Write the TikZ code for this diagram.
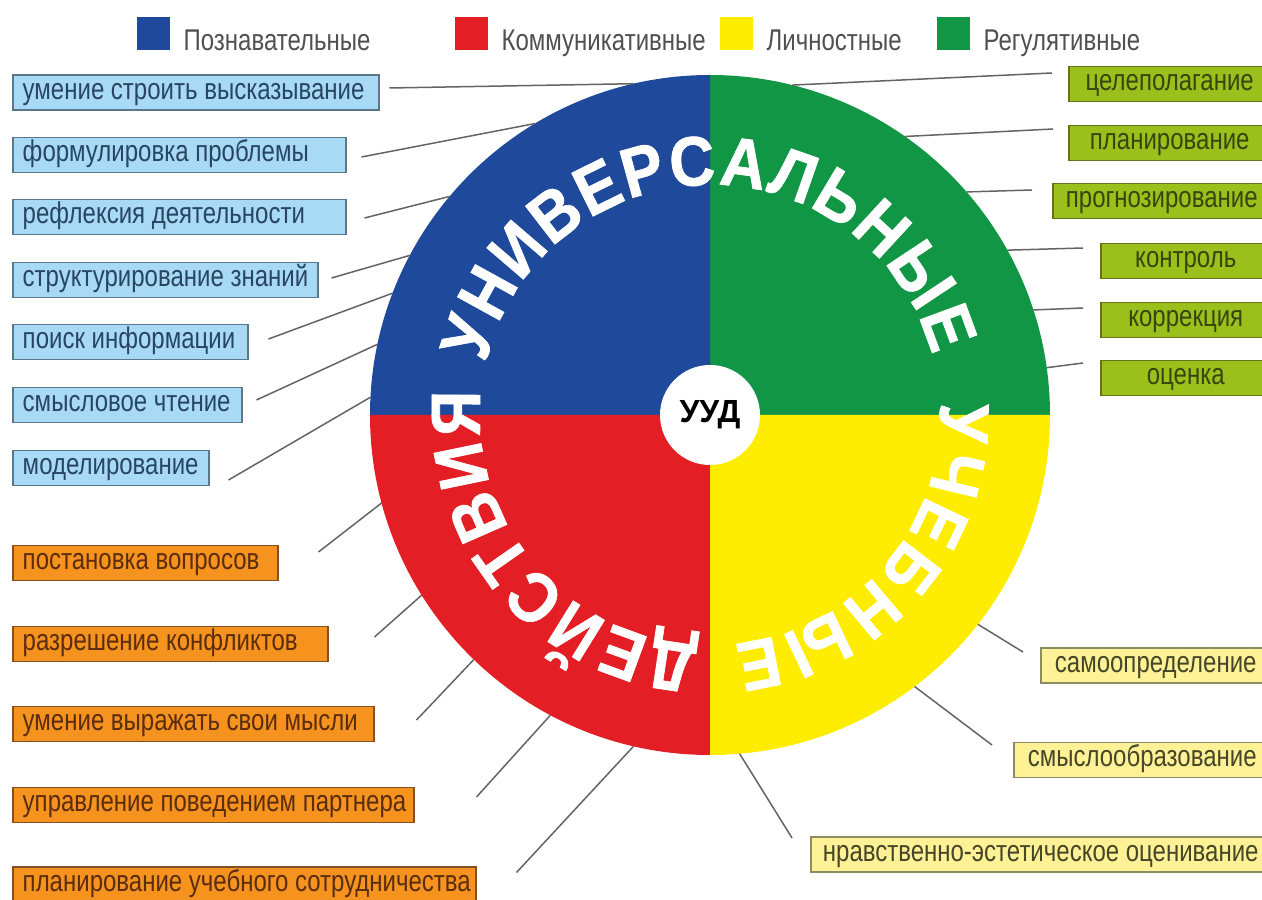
\documentclass[tikz,border=0pt]{standalone}
\usepackage{fontspec}
\setmainfont{Liberation Sans}
\newfontfamily\narrowfont[FakeStretch=0.8]{Liberation Sans}
\newfontfamily\arcfont[FakeStretch=0.9,FakeBold=1]{Liberation Sans}
\usetikzlibrary{positioning,decorations.text}

\definecolor{uudblue}{RGB}{31,74,155}
\definecolor{uudgreen}{RGB}{17,150,70}
\definecolor{uudred}{RGB}{227,30,36}
\definecolor{uudyellow}{RGB}{255,237,0}
\definecolor{poznfill}{RGB}{168,218,245}
\definecolor{poznline}{RGB}{90,120,140}
\definecolor{pozntext}{RGB}{40,70,100}
\definecolor{kommfill}{RGB}{246,146,30}
\definecolor{kommline}{RGB}{130,80,40}
\definecolor{kommtext}{RGB}{90,45,15}
\definecolor{regfill}{RGB}{155,192,28}
\definecolor{regline}{RGB}{100,115,30}
\definecolor{regtext}{RGB}{55,70,15}
\definecolor{lichfill}{RGB}{255,242,150}
\definecolor{lichline}{RGB}{140,140,100}
\definecolor{lichtext}{RGB}{70,70,40}
\definecolor{linegray}{RGB}{100,100,100}
\definecolor{leggray}{RGB}{80,80,80}

\begin{document}
\begin{tikzpicture}[x=1pt,y=1pt]

\tikzset{
ubox/.style={draw, line width=1.5pt, minimum height=35pt, inner xsep=10pt, inner ysep=0pt,
  text height=21pt, text depth=7pt, font=\narrowfont\fontsize{30}{32}\selectfont},
lbox/.style={ubox, anchor=west, text width=#1, align=flush left,
  execute at begin node=\hbox\bgroup, execute at end node=\egroup},
rbox/.style={ubox, anchor=west, minimum width=#1},
pozn/.style={fill=poznfill, draw=poznline, text=pozntext},
komm/.style={fill=kommfill, draw=kommline, text=kommtext},
reg/.style={fill=regfill, draw=regline, text=regtext},
lich/.style={fill=lichfill, draw=lichline, text=lichtext},
link/.style={draw=linegray, line width=1.5pt},
legsq/.style={minimum size=33pt, inner sep=0pt, anchor=west},
legtext/.style={text=leggray, inner sep=0pt, font=\narrowfont\fontsize{30}{32}\selectfont},
arcword/.style={decorate, decoration={text along path, text align={fit to path}, text color=white,
  text={|\arcfont\bfseries\fontsize{70}{72}\selectfont|#1}}}
}

\useasboundingbox (0,0) rectangle (1262,900);

% legend
\node[legsq, fill=uudblue] (lpozn) at (137,866.5) {};
\node[legtext, right=13pt of lpozn.south east, anchor=base west] {Познавательные};
\node[legsq, fill=uudred] (lkomm) at (455,866.5) {};
\node[legtext, right=13pt of lkomm.south east, anchor=base west] {Коммуникативные};
\node[legsq, fill=uudyellow] (llich) at (720,866.5) {};
\node[legtext, right=13pt of llich.south east, anchor=base west] {Личностные};
\node[legsq, fill=uudgreen] (lreg) at (937,866.5) {};
\node[legtext, right=13pt of lreg.south east, anchor=base west] {Регулятивные};

% wheel
\coordinate (c) at (710,485);
\fill[uudgreen]  (c) -- ++(0:340)   arc[start angle=0,   end angle=90,  radius=340] -- cycle;
\fill[uudblue]   (c) -- ++(90:340)  arc[start angle=90,  end angle=180, radius=340] -- cycle;
\fill[uudred]    (c) -- ++(180:340) arc[start angle=180, end angle=270, radius=340] -- cycle;
\fill[uudyellow] (c) -- ++(270:340) arc[start angle=270, end angle=360, radius=340] -- cycle;
\node[circle, minimum size=680pt, inner sep=0pt, outer sep=0pt] (wheel) at (c) {};

\path[arcword=УНИВЕРСАЛЬНЫЕ] ([shift={(167:230)}]c) arc[start angle=167, end angle=15, radius=230];
\path[arcword=УЧЕБНЫЕ] ([shift={(3:230)}]c) arc[start angle=3, end angle=-84, radius=230];
\path[arcword=ДЕЙСТВИЯ] ([shift={(-93:230)}]c) arc[start angle=-93, end angle=-186, radius=230];

\node[circle, fill=white, minimum size=100pt, inner sep=0pt,
  font=\bfseries\fontsize{32}{34}\selectfont] (uud) at (c) {УУД};

% left boxes
\node[lbox=346pt, pozn] (b1) at (12,807.5) {умение строить высказывание};
\node[lbox=313pt, pozn] (b2) at (12,745) {формулировка проблемы};
\node[lbox=313pt, pozn] (b3) at (12,683) {рефлексия деятельности};
\node[lbox=285pt, pozn] (b4) at (12,620) {структурирование знаний};
\node[lbox=215pt, pozn] (b5) at (12,558) {поиск информации};
\node[lbox=209pt, pozn] (b6) at (12,495) {смысловое чтение};
\node[lbox=176pt, pozn] (b7) at (12,432) {моделирование};

\node[lbox=245pt, komm] (o1) at (12,337) {постановка вопросов};
\node[lbox=295pt, komm] (o2) at (12,256) {разрешение конфликтов};
\node[lbox=341pt, komm] (o3) at (12,176) {умение выражать свои мысли};
\node[lbox=381pt, komm] (o4) at (12,95) {управление поведением партнера};
\node[lbox=443pt, komm] (o5) at (12,15.5) {планирование учебного сотрудничества};

% right boxes
\node[rbox=202pt, reg] (g1) at (1068,816) {целеполагание};
\node[rbox=202pt, reg] (g2) at (1068,757) {планирование};
\node[rbox=218pt, reg] (g3) at (1052,699) {прогнозирование};
\node[rbox=170pt, reg] (g4) at (1100,639) {контроль};
\node[rbox=170pt, reg] (g5) at (1100,580) {коррекция};
\node[rbox=170pt, reg] (g6) at (1100,522) {оценка};

\node[rbox=230pt, lich] (y1) at (1040,234.5) {самоопределение};
\node[rbox=257pt, lich] (y2) at (1013,140) {смыслообразование};
\node[rbox=460pt, lich] (y3) at (810,45.5) {нравственно-эстетическое оценивание};

% connectors
\path[link]
%   FROM                                  TO
([xshift=10pt,yshift=4.5pt]b1.east)   edge (wheel.103.5)
([xshift=15pt,yshift=-2pt]b2.east)    edge (wheel.121)
([xshift=18pt,yshift=-1pt]b3.east)    edge (wheel.140)
([xshift=13pt,yshift=2pt]b4.east)     edge (wheel.152)
([xshift=20pt,yshift=3pt]b5.east)     edge (wheel.159)
([xshift=14pt,yshift=5pt]b6.east)     edge (wheel.168)
([xshift=19pt,yshift=-12pt]b7.east)   edge (wheel.177)

([xshift=40pt,yshift=11pt]o1.east)    edge (wheel.195)
([xshift=46pt,yshift=7pt]o2.east)     edge (wheel.212)
([xshift=42pt,yshift=4pt]o3.east)     edge (wheel.226.5)
([xshift=62pt,yshift=8pt]o4.east)     edge (wheel.242)
([xshift=40pt,yshift=12pt]o5.east)    edge (wheel.257)

([xshift=-16pt,yshift=11pt]g1.west)   edge (wheel.76.5)
([xshift=-15pt,yshift=14pt]g2.west)   edge (wheel.55)
([xshift=-20pt,yshift=11pt]g3.west)   edge (wheel.41.3)
([xshift=-17pt,yshift=13pt]g4.west)   edge (wheel.29.4)
([xshift=-17pt,yshift=12pt]g5.west)   edge (wheel.18.3)
([xshift=-17pt,yshift=15pt]g6.west)   edge (wheel.8.5)

([xshift=-17pt,yshift=13.5pt]y1.west) edge (wheel.-38)
([xshift=-21pt,yshift=15pt]y2.west)   edge (wheel.-53.4)
([xshift=-18pt,yshift=16.5pt]y3.west) edge (wheel.-85)
;

\end{tikzpicture}
\end{document}
